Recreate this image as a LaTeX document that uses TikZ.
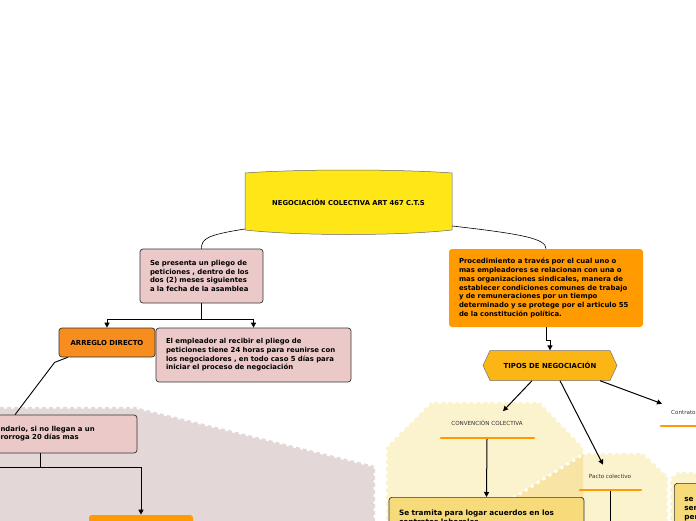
\documentclass[tikz,border=0pt]{standalone}
\usepackage{fontspec}
\setmainfont{DejaVu Sans}
\usetikzlibrary{arrows.meta,calc}
\definecolor{topyel}{HTML}{FFE617}
\definecolor{pinkbox}{HTML}{EBC9C9}
\definecolor{orgbox}{HTML}{FF9A00}
\definecolor{arreglo}{HTML}{F78C1F}
\definecolor{tiposc}{HTML}{FBB615}
\definecolor{bgpink}{HTML}{E3D7D7}
\definecolor{creaml}{HTML}{FBF2CE}
\definecolor{creamd}{HTML}{F8E5A6}
\definecolor{yelbox}{HTML}{F7DB7A}
\definecolor{bordc}{HTML}{333333}
\begin{document}
\begin{tikzpicture}[x=1pt,y=-1pt,
 box/.style={draw=bordc, line width=0.7pt, rounded corners=3pt, align=left, inner xsep=10pt, inner ysep=0pt, font=\fontsize{6.9}{8.7}\selectfont\bfseries, text=black},
 arr/.style={line width=1pt, -{Triangle[length=5pt,width=5pt]}},
 ln/.style={line width=1pt},
 lbl/.style={font=\fontsize{5.6}{6.5}\selectfont, text=bordc, inner sep=0pt},
 uline/.style={draw=orgbox, line width=2.6pt, line cap=round},
 notch/.style={draw=white, line width=3pt, dash pattern=on 3pt off 4pt}
]
\useasboundingbox (0,0) rectangle (696,520);
\clip (0,0) rectangle (696,520);
% background regions
\fill[bgpink] (-10,407) -- (135,407) -- (375,466) -- (375,530) -- (-10,530) -- cycle;
\draw[notch] (-10,407) -- (135,407) -- (375,466) -- (375,530);
\fill[creaml] (386,530) -- (386,447) -- (431,402) -- (540,402) -- (583,447) -- (583,530) -- cycle;
\fill[creaml] (513,530) -- (513,498) -- (585,453) -- (643,453) -- (668,476) -- (668,530) -- cycle;
\begin{scope}
\clip (386,530) -- (386,447) -- (431,402) -- (540,402) -- (583,447) -- (583,530) -- cycle;
\fill[creamd] (513,530) -- (513,498) -- (585,453) -- (643,453) -- (668,476) -- (668,530) -- cycle;
\end{scope}
\fill[creaml] (670,530) -- (670,478) -- (678,472) -- (700,472) -- (700,530) -- cycle;
\draw[notch] (386,530) -- (386,447) -- (431,402) -- (540,402) -- (583,447);
\draw[notch] (513,498) -- (585,453) -- (643,453) -- (668,476) -- (668,530);
\draw[notch] (670,530) -- (670,478) -- (678,472) -- (700,472);
% top node
\draw[draw=black!60, line width=0.5pt, fill=topyel] (245,173) .. controls (300,169) and (397,169) .. (452,173) -- (452,230) .. controls (397,236) and (300,236) .. (245,230) -- cycle;
\node[font=\fontsize{6.8}{8}\selectfont\bfseries, inner sep=0pt, minimum width=207pt, minimum height=62pt] (top) at (348.5,202.5) {NEGOCIACIÓN COLECTIVA ART 467 C.T.S};
% TIPOS shape
\draw[draw=black!55, line width=0.5pt, fill=tiposc] (483,365.5) -- (490,350.5) -- (610,350.5) -- (617,365.5) -- (610,380.5) -- (490,380.5) -- cycle;
\node[font=\fontsize{6.9}{8}\selectfont\bfseries, inner sep=0pt, minimum width=134pt, minimum height=30pt] (tipos) at (550,365.5) {TIPOS DE NEGOCIACIÓN};
% nodes
\node[box, fill=pinkbox, text width=103pt, minimum height=54pt] (p1) at (201.5,276) {Se presenta un pliego de\\peticiones , dentro de los\\dos (2) meses siguientes\\a la fecha de la asamblea};
\node[box, draw=none, fill=orgbox, text width=174pt, minimum height=78pt] (o1) at (546,288) {Procedimiento a través por el cual uno o\\mas empleadores se relacionan con una o\\mas organizaciones sindicales, manera de\\establecer condiciones comunes de trabajo\\y de remuneraciones por un tiempo\\determinado y se protege por el articulo 55\\de la constitución política.};
\node[box, fill=arreglo, align=center, inner xsep=2pt, minimum width=96pt, minimum height=29pt] (a1) at (107,342.5) {ARREGLO DIRECTO};
\node[box, fill=pinkbox, text width=175pt, minimum height=54pt] (p2) at (253.5,355) {El empleador al recibir el pliego de\\peticiones tiene 24 horas para reunirse con\\los negociadores , en todo caso 5 días para\\iniciar el proceso de negociación};
\node[box, fill=pinkbox, minimum width=200pt, minimum height=38pt] (p3) at (37,434) {};
\node[font=\fontsize{6.9}{8.7}\selectfont\bfseries, anchor=west, align=left, inner sep=0pt] (p3t) at (-4.6,433.5) {\phantom{p}ndario, si no llegan a un\\prorroga 20 días mas};
\node[box, draw=none, fill=orgbox, minimum width=104pt, minimum height=30pt] (o2) at (141,530) {};
\node[box, fill=yelbox, font=\fontsize{7.3}{9.4}\selectfont\bfseries, text width=175pt, inner ysep=12.5pt, anchor=north] (st) at (486.5,497) {Se tramita para logar acuerdos en los\\contratos laborales};
\node[box, fill=yelbox, font=\fontsize{7.3}{9.2}\selectfont\bfseries, text width=60pt, inner ysep=14pt, anchor=north west] (rb) at (674,483) {se c\\ser\\per};
% labels
\node[lbl] (conv) at (487,423) {CONVENCIÓN COLECTIVA};
\draw[uline] (441,438) -- (534,438);
\coordinate (convu) at (487,439);
\node[lbl] (pacto) at (610,476) {Pacto colectivo};
\draw[uline] (580,490) -- (641,490);
\coordinate (pactou) at (610,491);
\coordinate (pactoend) at (610,530);
\node[lbl, anchor=west] (contr) at (671,412) {Contrato};
\draw[uline] (661,426) -- (705,426);
% connectors
\draw[line width=0.6pt] ($(top.west)+(0,26.5)$) .. controls +(-38,6) and +(0,-10) .. (p1.north);
\draw[line width=0.6pt] ($(top.east)+(0,23.5)$) .. controls +(70,8) and +(0,-10) .. (o1.north);
\draw[ln] (p1.south) -- ++(0,16) coordinate (j1);
\draw[arr] (j1) -| (a1.north);
\draw[arr] (j1) -| (p2.north);
\draw[line width=0.9pt] ([xshift=9pt]a1.south west) -- ++(-13,5) -- ([xshift=-22pt]p3.north);
\draw[ln] ([xshift=3pt]p3.south) -- ++(0,14) coordinate (j2);
\draw[ln] (j2) -- ++(-60,0);
\draw[arr] (j2) -| (o2.north);
\draw[arr] (o1.south) -- ++(0,13) -| (tipos.north);
\draw[arr] ([xshift=-18pt]tipos.south) -- ($(conv.north)+(16,-9)$);
\draw[arr] ([xshift=10pt]tipos.south) -- ($(pacto.north)+(-7,-9)$);
\draw[arr] ([xshift=50pt]tipos.south) -- ($(contr.north west)+(-9,-6)$);
\draw[arr] (convu) -- (st.north);
\draw[ln] (pactou) -- (pactoend);
\end{tikzpicture}
\end{document}
